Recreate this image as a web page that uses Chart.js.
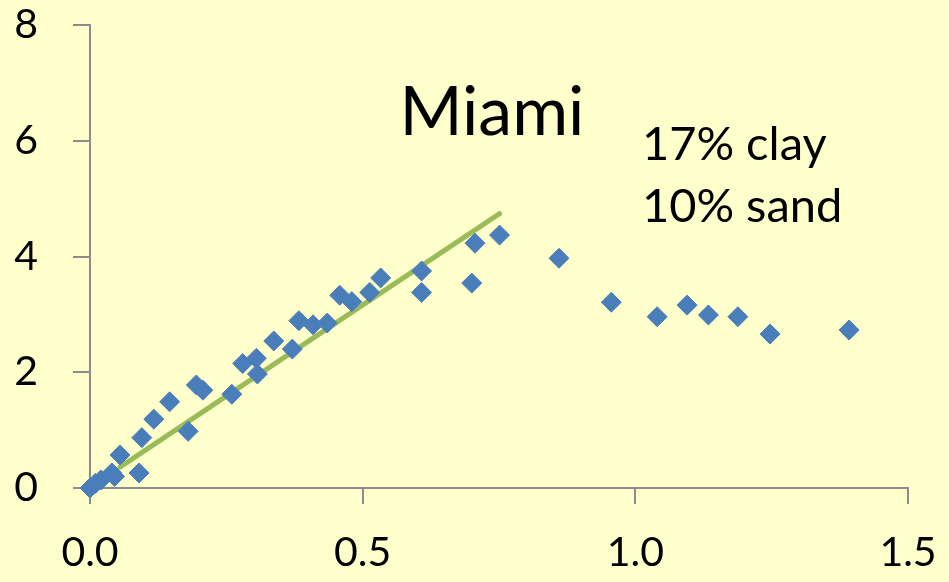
<!DOCTYPE html>
<html>
<head>
<meta charset="utf-8">
<script src="https://cdn.jsdelivr.net/npm/chart.js@4"></script>
<style>
  html, body { margin: 0; padding: 0; background: #FFFFCC; }
  #wrap { width: 949px; height: 582px; }
</style>
</head>
<body>
<div id="wrap"><canvas id="chart" width="949" height="582"></canvas></div>
<script>
const pointX = [0.0, 0.01, 0.02, 0.04, 0.045, 0.055, 0.09, 0.095, 0.117, 0.146,
                0.18, 0.195, 0.207, 0.26, 0.28, 0.305, 0.307, 0.337, 0.371, 0.383,
                0.409, 0.435, 0.458, 0.48, 0.513, 0.533, 0.608, 0.608, 0.70, 0.706,
                0.751, 0.86, 0.956, 1.04, 1.095, 1.134, 1.188, 1.247, 1.392];
const pointY = [0.0, 0.08, 0.14, 0.26, 0.20, 0.57, 0.26, 0.87, 1.19, 1.49,
                0.98, 1.78, 1.69, 1.62, 2.15, 2.24, 1.97, 2.54, 2.40, 2.89,
                2.82, 2.85, 3.33, 3.22, 3.38, 3.63, 3.75, 3.38, 3.54, 4.23,
                4.37, 3.97, 3.21, 2.96, 3.16, 2.99, 2.96, 2.66, 2.73];

// fitted line end points
const fitX = [0.055, 0.751];
const fitY = [0.36, 4.74];

const xTicks = [0, 0.5, 1.0, 1.5];
const yTicks = [0, 2, 4, 6, 8];

const title = "Miami";
const notes = ["17% clay", "10% sand"];

Chart.defaults.font.family = "Lato, 'Open Sans', sans-serif";
Chart.defaults.color = "#000";

const axisGray = "#8C8C8C";

const textPlugin = {
  id: 'notes',
  afterDatasetsDraw(chart) {
    const { ctx, scales: { x, y } } = chart;
    ctx.save();
    ctx.fillStyle = '#000';
    ctx.textBaseline = 'alphabetic';
    ctx.font = "68px Lato";
    ctx.textAlign = 'center';
    ctx.fillText(title, x.getPixelForValue(0.737), y.getPixelForValue(6.1));
    ctx.font = "47px Lato";
    ctx.textAlign = 'left';
    ctx.fillText(notes[0], x.getPixelForValue(1.012), y.getPixelForValue(5.66));
    ctx.fillText(notes[1], x.getPixelForValue(1.012), y.getPixelForValue(4.59));
    ctx.restore();
  }
};

new Chart(document.getElementById('chart'), {
  type: 'scatter',
  data: {
    datasets: [
      {
        label: 'data',
        data: pointX.map((v, i) => ({ x: v, y: pointY[i] })),
        pointStyle: 'rectRot',
        pointRadius: 10,
        backgroundColor: '#4A7EBB',
        borderColor: '#4A7EBB',
        borderWidth: 1,
        clip: false
      },
      {
        label: 'fit',
        type: 'line',
        data: fitX.map((v, i) => ({ x: v, y: fitY[i] })),
        borderColor: '#9BBB59',
        borderWidth: 5,
        borderCapStyle: 'round',
        pointRadius: 0,
        fill: false
      }
    ]
  },
  options: {
    responsive: false,
    animation: false,
    layout: { padding: { top: 25, right: 41, left: 0, bottom: 0 } },
    plugins: { legend: { display: false }, tooltip: { enabled: false } },
    scales: {
      x: {
        type: 'linear', min: 0, max: 1.5,
        afterBuildTicks: s => { s.ticks = xTicks.map(v => ({ value: v })); },
        afterFit: s => { s.height = 94; s.paddingLeft = 0; s.paddingRight = 0; },
        border: { color: axisGray, width: 2 },
        grid: { drawOnChartArea: false, color: axisGray, tickLength: 16, lineWidth: 2 },
        ticks: { font: { size: 41 }, padding: 24, callback: v => v.toFixed(1), maxRotation: 0 }
      },
      y: {
        type: 'linear', min: 0, max: 8,
        afterBuildTicks: s => { s.ticks = yTicks.map(v => ({ value: v })); },
        afterFit: s => { s.width = 90; s.paddingTop = 0; s.paddingBottom = 0; },
        border: { color: axisGray, width: 2 },
        grid: { drawOnChartArea: false, color: axisGray, tickLength: 17, lineWidth: 2 },
        ticks: { font: { size: 41 }, padding: 35 }
      }
    }
  },
  plugins: [textPlugin]
});
</script>
</body>
</html>
